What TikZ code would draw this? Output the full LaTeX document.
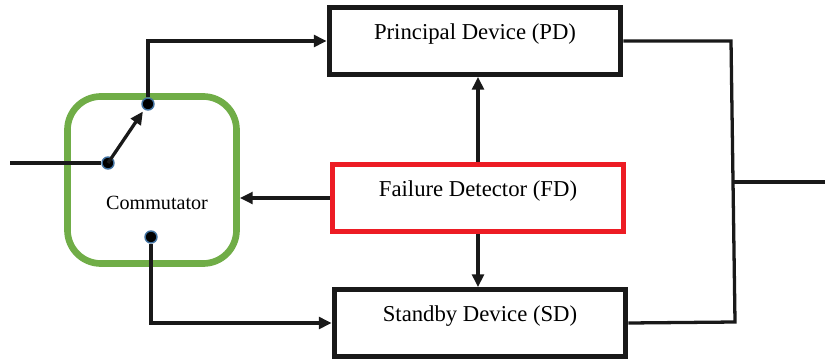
\documentclass[tikz,border=0pt]{standalone}
\usepackage{fontspec}
\setmainfont{Liberation Serif}
\usepackage{xcolor}
\usepackage{tikz}
\usetikzlibrary{positioning,arrows.meta}
\definecolor{comgreen}{RGB}{112,173,71}
\definecolor{fdred}{RGB}{237,28,36}
\definecolor{dotblue}{RGB}{65,113,160}
\tikzset{
  devbox/.style={draw=black!90, line width=4.2pt, minimum width=8.75cm, minimum height=2cm,
    font=\fontsize{19.4}{23}\selectfont, text height=0.7em, text depth=0.9em},
  fdbox/.style={devbox, draw=fdred},
  combox/.style={draw=comgreen, line width=5.7pt, rounded corners=1cm,
    minimum width=5.07cm, minimum height=5.01cm},
  contact/.style={circle, fill=black, draw=dotblue, line width=1.2pt, inner sep=0pt, minimum size=0.36cm},
  flow/.style={-{Triangle[length=11pt,width=10pt]}}
}
\begin{document}
\begin{tikzpicture}[x=0.03cm,y=-0.03cm,line width=2.8pt,draw=black!90]
\useasboundingbox (0,0) rectangle (825,360);
\node[devbox] (pd) at (475,41) {Principal Device (PD)};
\node[fdbox] (fd) at (478,198) {Failure Detector (FD)};
\node[devbox] (sd) at (480,323) {Standby Device (SD)};
%
\node[combox] (com) at (152,180) {};
\node[font=\fontsize{17.2}{20}\selectfont] (comtext) at (157,203) {Commutator};
%
\coordinate (in) at (10,163);
\coordinate (bustop) at (731,41);
\coordinate (busbot) at (735,322);
\coordinate (busmid) at (733,182);
\coordinate (out) at (825,182);
%
\foreach \Name/\Pos in {%
	cin/{(108,163)},
	ctop/{(148,104)},
	cbot/{(151,237)}%
    }
\node[contact] (\Name) at \Pos {};
%
\draw (in) to (cin);
\draw[flow, shorten >=2pt] (cin.center) to (ctop);
\draw[flow] (ctop) |- (pd.west);
\draw[flow] (cbot) |- (sd.west);
\draw[flow] (fd.west) to (com.east |- fd.west);
\draw[flow] (fd.north) to (fd.north |- pd.south);
\draw[flow] (fd.south) to (fd.south |- sd.north);
%
\draw (pd.east) -- (bustop) -- (busbot) -- (sd.east);
\draw (busmid) to (out);
\end{tikzpicture}
\end{document}
